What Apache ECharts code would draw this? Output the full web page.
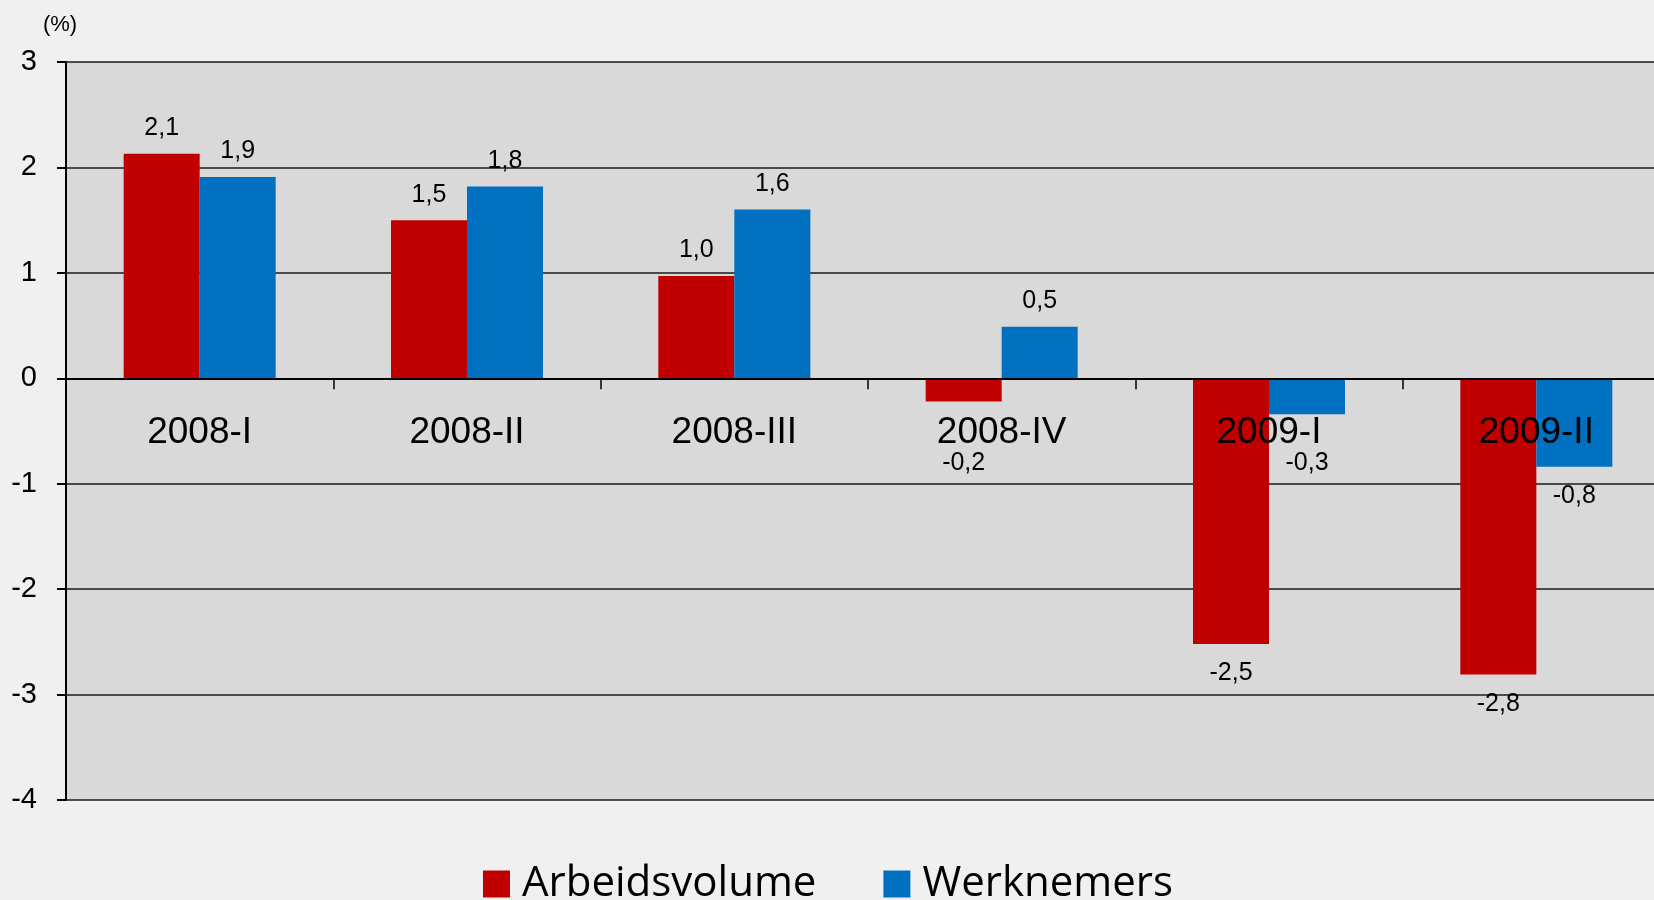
<!DOCTYPE html>
<html>
<head>
<meta charset="utf-8">
<script src="https://cdn.jsdelivr.net/npm/echarts@6/dist/echarts.min.js"></script>
<style>
    html, body { margin: 0; padding: 0; background: #f0f0f0; }
    #chart { width: 1654px; height: 900px; }
</style>
</head>
<body>
<div id="chart"></div>
<script>
const quarters = ['2008-I', '2008-II', '2008-III', '2008-IV', '2009-I', '2009-II'];
const arbeidsvolume = [2.13, 1.50, 0.97, -0.22, -2.52, -2.81];
const werknemers = [1.91, 1.82, 1.60, 0.49, -0.34, -0.84];
const seriesNames = ['Arbeidsvolume', 'Werknemers'];
const seriesColors = ['#c00000', '#0070c0'];

const chart = echarts.init(document.getElementById('chart'));

// labels als 2,1 in plaats van 2.1
const fmt = p => p.value.toFixed(1).replace('.', ',');

const makeSeries = (name, values, color) => ({
    name: name,
    type: 'bar',
    data: values.map(v => ({
        value: v,
        label: { position: v < 0 ? 'bottom' : 'top', distance: v < 0 ? 17 : 13 }
    })),
    barWidth: 76,
    barGap: '0%',
    itemStyle: { color: color },
    label: {
        show: true,
        formatter: fmt,
        color: '#000',
        fontSize: 25,
        fontFamily: 'Liberation Sans'
    }
});

chart.setOption({
    backgroundColor: '#f0f0f0',
    animation: false,
    grid: {
        left: 66,
        top: 62,
        width: 1604,
        bottom: 100,
        outerBoundsMode: 'none',
        show: true,
        backgroundColor: '#d9d9d9',
        borderWidth: 0
    },
    legend: {
        data: seriesNames,
        left: 483,
        top: 863,
        padding: 0,
        itemWidth: 27,
        itemHeight: 27,
        itemGap: 67,
        icon: 'rect',
        textStyle: {
            fontSize: 42,
            fontFamily: 'Open Sans',
            color: '#000',
            padding: [0, 0, 0, 7]
        }
    },
    xAxis: {
        type: 'category',
        data: quarters,
        z: 10,
        axisLine: { onZero: false, lineStyle: { color: '#000', width: 2 } },
        axisTick: { show: true, length: 11, lineStyle: { color: '#000', width: 1.5 } },
        axisLabel: {
            margin: 36,
            fontSize: 37,
            fontFamily: 'Liberation Sans',
            color: '#000'
        }
    },
    yAxis: {
        type: 'value',
        min: -4,
        max: 3,
        interval: 1,
        name: '(%)',
        nameLocation: 'end',
        nameGap: 26,
        nameTextStyle: {
            fontSize: 22,
            fontFamily: 'Liberation Sans',
            color: '#000',
            padding: [0, 12, 0, 0]
        },
        axisLine: { show: true, lineStyle: { color: '#000', width: 2 } },
        axisTick: { show: true, length: 9, lineStyle: { color: '#000', width: 2 } },
        axisLabel: {
            margin: 29,
            fontSize: 29,
            fontFamily: 'Liberation Sans',
            color: '#000'
        },
        splitLine: { lineStyle: { color: '#1a1a1a', width: 1.5 } }
    },
    series: [
        makeSeries(seriesNames[0], arbeidsvolume, seriesColors[0]),
        makeSeries(seriesNames[1], werknemers, seriesColors[1])
    ]
});

// x-as naar de nullijn schuiven, kleine negatieve labels onder de categorielabels
const zeroY = chart.convertToPixel({ yAxisIndex: 0 }, 0);
const bottomY = chart.convertToPixel({ yAxisIndex: 0 }, -4);
const pushBelow = params => {
    const minTop = zeroY + 72;
    const r = params.labelRect;
    if (r.y > zeroY && r.y < minTop) {
        return { dy: minTop - r.y };
    }
};
chart.setOption({
    xAxis: { offset: zeroY - bottomY },
    series: [{ labelLayout: pushBelow }, { labelLayout: pushBelow }]
});
</script>
</body>
</html>
